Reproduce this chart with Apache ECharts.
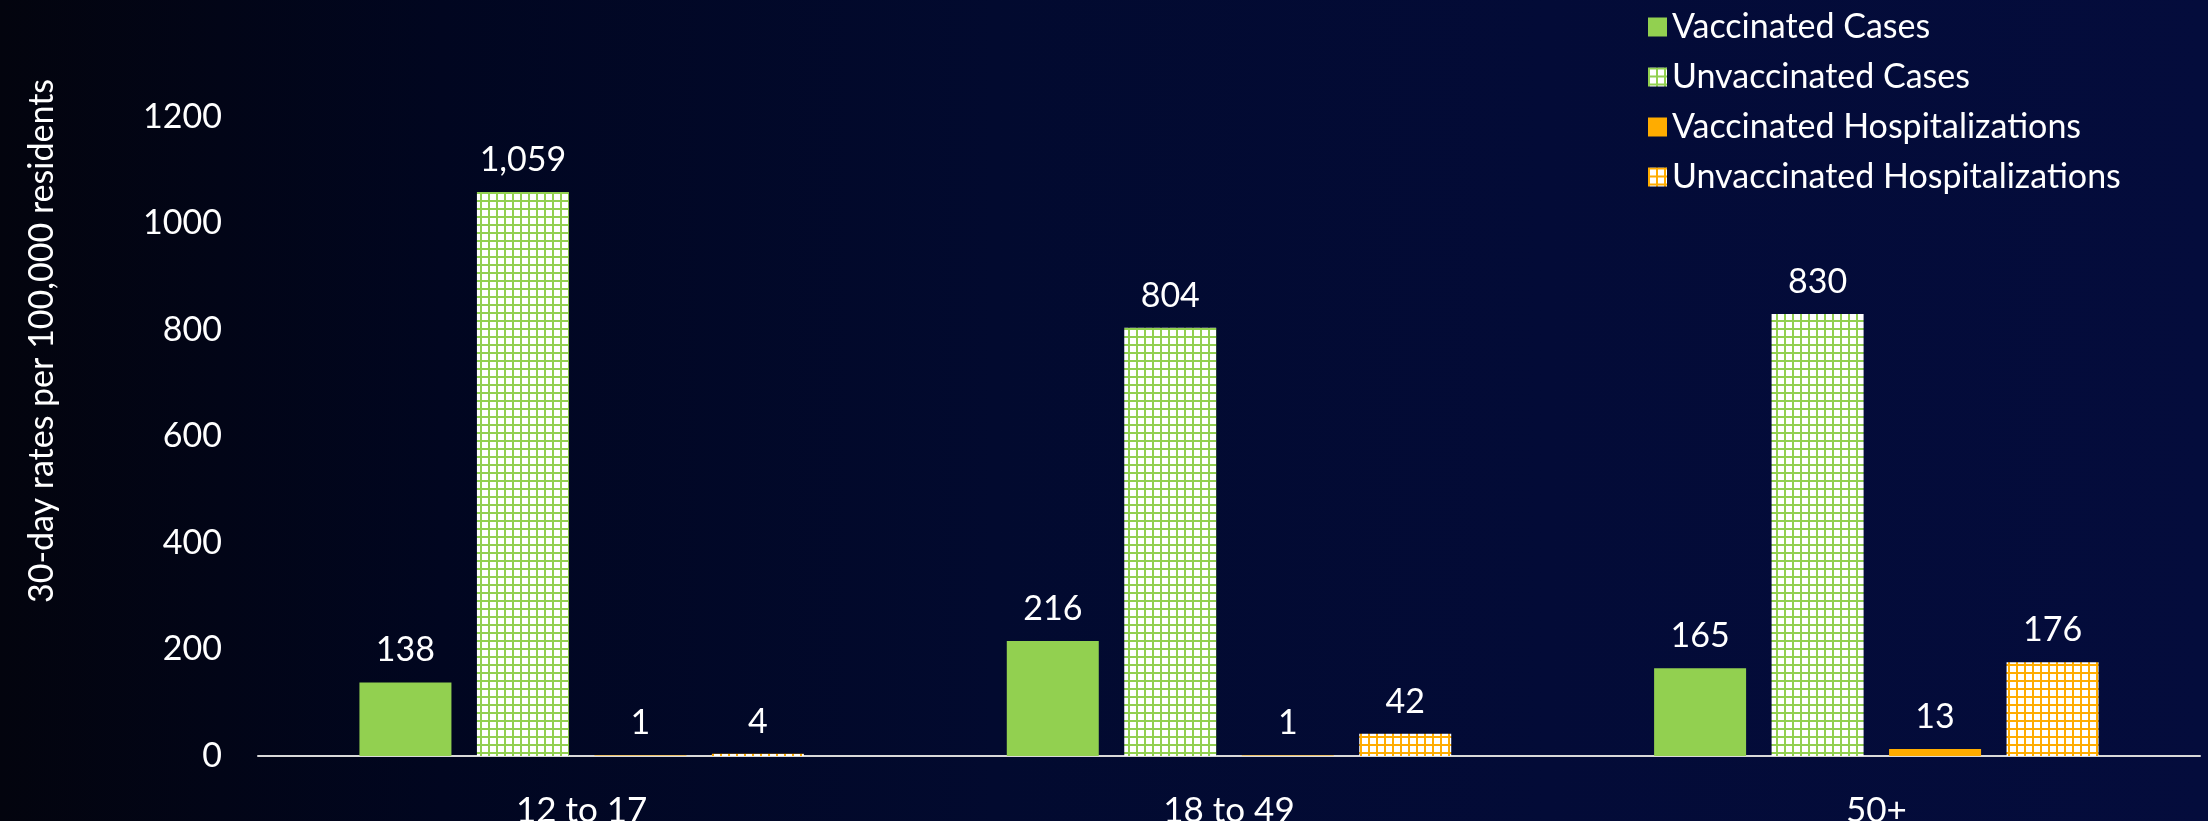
<!DOCTYPE html>
<html>
<head>
<meta charset="utf-8">
<script src="https://cdn.jsdelivr.net/npm/echarts@6/dist/echarts.min.js"></script>
<style>
  html, body { margin: 0; padding: 0; }
  #rates {
    width: 2208px;
    height: 821px;
    background: linear-gradient(90deg, #03040e 0%, #010620 20%, #020a2f 45%, #030b37 70%, #040c3c 100%);
  }
</style>
</head>
<body>
<div id="rates"></div>
<script>
const ageGroups = ['12 to 17', '18 to 49', '50+'];
const vaccinatedCases = [138, 216, 165];
const unvaccinatedCases = [1059, 804, 830];
const vaccinatedHosp = [1, 1, 13];
const unvaccinatedHosp = [4, 42, 176];
const yTicks = [0, 200, 400, 600, 800, 1000, 1200];

const GREEN = '#92d050';
const ORANGE = '#ffac00';
const FONT = 'Lato';

// white squares with coloured grid lines, like the office "large grid" fill
function gridPattern(lineColor) {
  const c = document.createElement('canvas');
  c.width = 8;
  c.height = 8;
  const ctx = c.getContext('2d');
  ctx.fillStyle = '#ffffff';
  ctx.fillRect(0, 0, 8, 8);
  ctx.fillStyle = lineColor;
  ctx.fillRect(0, 0, 8, 2);
  ctx.fillRect(0, 0, 2, 8);
  return { image: c, repeat: 'repeat' };
}

const myChart = echarts.init(document.getElementById('rates'));

const label = {
  show: true,
  position: 'top',
  distance: 15,
  color: '#ffffff',
  fontFamily: FONT,
  fontSize: 34,
  formatter: p => p.value.toLocaleString('en-US')
};

function bar(name, data, color) {
  return {
    name: name,
    type: 'bar',
    data: data,
    barWidth: 92,
    barGap: '27.7%',
    itemStyle: { color: color },
    label: label
  };
}

const option = {
  backgroundColor: 'transparent',
  textStyle: { fontFamily: FONT },
  grid: {
    left: 258,
    right: 8,
    top: 117,
    bottom: 65,
    containLabel: false,
    outerBoundsMode: 'none'
  },
  legend: {
    orient: 'vertical',
    left: 1643,
    top: 5,
    icon: 'rect',
    itemWidth: 19,
    itemHeight: 19,
    itemGap: 16,
    textStyle: { color: '#ffffff', fontFamily: FONT, fontSize: 34 }
  },
  graphic: [
    {
      type: 'text',
      x: 42,
      y: 341,
      rotation: Math.PI / 2,
      style: {
        text: '30-day rates per 100,000 residents',
        fill: '#ffffff',
        font: '34px ' + FONT,
        textAlign: 'center',
        textVerticalAlign: 'middle'
      }
    }
  ],
  xAxis: {
    type: 'category',
    data: ageGroups,
    axisLine: { lineStyle: { color: '#d9d9d9', width: 2 } },
    axisTick: { show: false },
    axisLabel: { color: '#ffffff', fontFamily: FONT, fontSize: 35, margin: 37 }
  },
  yAxis: {
    type: 'value',
    min: yTicks[0],
    max: yTicks[yTicks.length - 1],
    interval: 200,
    splitLine: { show: false },
    axisLine: { show: false },
    axisTick: { show: false },
    axisLabel: {
      color: '#ffffff',
      fontFamily: FONT,
      fontSize: 34,
      margin: 36,
      formatter: v => String(v)
    }
  },
  series: [
    bar('Vaccinated Cases', vaccinatedCases, GREEN),
    bar('Unvaccinated Cases', unvaccinatedCases, gridPattern(GREEN)),
    bar('Vaccinated Hospitalizations', vaccinatedHosp, ORANGE),
    bar('Unvaccinated Hospitalizations', unvaccinatedHosp, gridPattern(ORANGE))
  ]
};

myChart.setOption(option);
window.addEventListener('resize', () => {
  myChart.resize();
});
</script>
</body>
</html>
